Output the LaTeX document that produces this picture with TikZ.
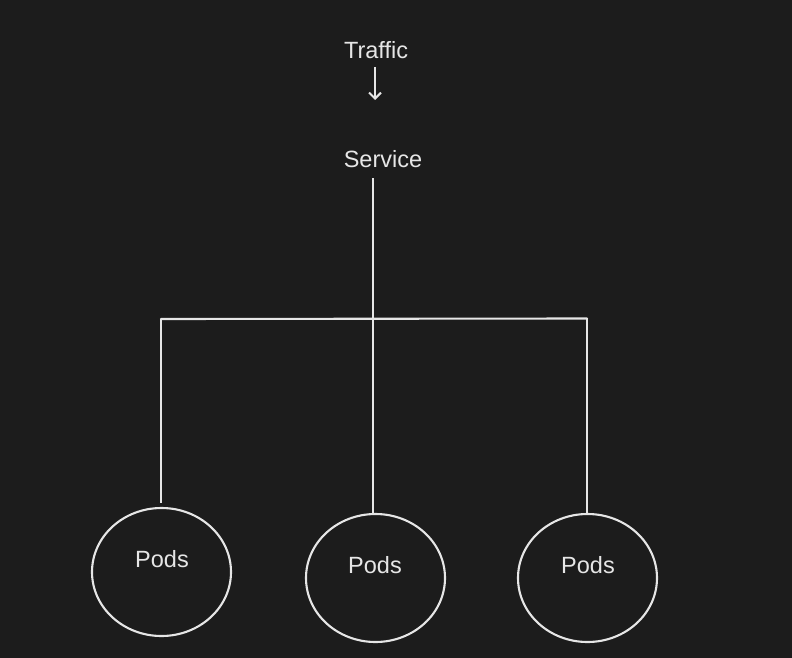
\documentclass[tikz,border=0pt]{standalone}
\usepackage{fontspec}
\setmainfont{Liberation Sans}
\usetikzlibrary{arrows.meta,shapes.geometric}
\definecolor{bg}{HTML}{1C1C1C}
\definecolor{ink}{HTML}{E6E6E6}
\begin{document}
\begin{tikzpicture}[x=1pt,y=-1pt,
  lbl/.style={text=ink,font=\fontsize{23.5}{26}\selectfont,inner sep=0pt},
  pod/.style={draw=ink,line width=2.1pt,ellipse,minimum width=139pt,minimum height=128pt,inner sep=0pt},
  wire/.style={draw=ink,line width=2.1pt},
]
\fill[bg] (0,0) rectangle (792,658);
\useasboundingbox (0,0) rectangle (792,658);
% texts
\node[lbl] (traffic) at (376,50) {Traffic};
\node[lbl] (service) at (383,159) {Service};
% arrow
\coordinate (arrA) at (375,67);
\coordinate (arrB) at (375,100);
\draw[wire,-{Straight Barb[length=6pt,width=12pt]}] (arrA) -- (arrB);
% pods
\node[pod] (podL) at (161.5,572) {};
\node[pod] (podM) at (375.5,578) {};
\node[pod] (podR) at (587.5,578) {};
\node[lbl] (podLt) at (162,559) {Pods};
\node[lbl] (podMt) at (375,565) {Pods};
\node[lbl] (podRt) at (588,565) {Pods};
% tree
\coordinate (svcB) at (373,178);
\coordinate (jM) at (373,318.5);
\coordinate (jL) at (161,319);
\coordinate (jR) at (587,318.5);
\coordinate (lB) at (161,503);
\draw[wire] (svcB) -- (jM) -- (jM |- podM.north);
\draw[wire,line cap=round] (jL) -- (jR);
\draw[wire] (jL) -- (lB);
\draw[wire] (jR) -- (jR |- podR.north);
\end{tikzpicture}
\end{document}
